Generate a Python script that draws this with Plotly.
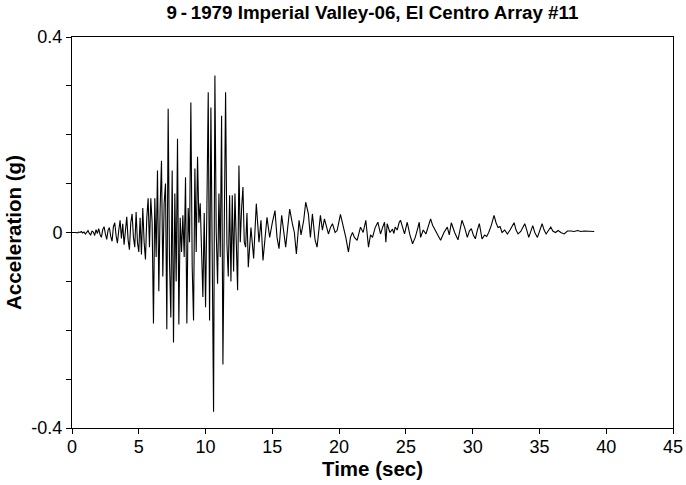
import plotly.graph_objects as go

t_strong = [round(i * 0.1, 1) for i in range(130)]
a_strong = [
    0, 0, 0.001, 0, -0.001, 0.001, 0, 0.002, -0.001, 0.001,
    -0.003, 0.002, 0.004, -0.002, -0.005, 0.003, 0.001, -0.006, 0.006, -0.002,
    0.008, -0.004, -0.01, 0.006, 0.012, -0.003, -0.014, 0.005, 0.01, -0.008,
    -0.018, 0.012, 0.02, -0.006, -0.022, 0.004, 0.025, -0.012, 0.018, -0.025,
    0.01, 0.032, -0.015, -0.035, 0.02, 0.038, -0.01, -0.03, 0.042, -0.02,
    -0.04, 0.03, -0.045, 0.05, -0.02, -0.055, 0.03, 0.07, -0.03, 0.07,
    0.02, -0.186, 0.07, -0.05, 0.127, -0.12, 0.05, 0.147, -0.09, 0.06,
    0.10, -0.198, 0.253, -0.06, -0.174, 0.127, -0.225, 0.08, -0.10, 0.192,
    -0.188, 0.03, -0.04, 0.035, -0.05, 0.113, -0.186, 0.05, -0.02, 0.266,
    -0.07, -0.18, 0.131, -0.04, 0.155, 0.02, 0.06, -0.05, -0.132, 0.04,
    -0.153, 0.05, 0.287, -0.18, 0.256, -0.05, -0.367, 0.321, 0.0, -0.105,
    0.08, -0.05, 0.239, -0.27, 0.05, 0.287, -0.023, -0.09, 0.076, -0.10,
    0.076, -0.08, 0.08, -0.02, -0.118, 0.137, -0.02, 0.05, 0.093, -0.02,
]

# Segment 2: 13 s to end (times and values)
t_coda = [
    13.0, 13.1, 13.2, 13.4, 13.6, 13.8, 14.0, 14.15, 14.3, 14.6, 14.8, 15.0, 15.2, 15.35,
    15.5, 15.7, 15.85, 16.0, 16.15, 16.3, 16.5, 16.65, 16.8, 17.0, 17.15, 17.35, 17.5,
    17.7, 17.85, 18.0, 18.2, 18.35, 18.6, 18.75, 18.9, 19.05, 19.2, 19.35, 19.5, 19.7,
    19.85, 20.1, 20.35, 20.5, 20.7, 20.85, 21.0, 21.15, 21.35, 21.6, 21.8, 22.0, 22.2,
    22.35, 22.5, 22.7, 22.9, 23.1, 23.25, 23.4, 23.5, 23.6, 23.8, 24.0, 24.1, 24.2,
    24.35, 24.5, 24.6, 24.75, 24.9, 25.1, 25.3, 25.5, 25.7, 25.85, 26.0, 26.1, 26.3,
    26.5, 26.7, 26.85, 27.0, 27.2, 27.4, 27.6, 27.85, 28.1, 28.25, 28.4, 28.65, 28.9,
    29.05, 29.2, 29.4, 29.6, 29.75, 29.9, 30.05, 30.2, 30.35, 30.5, 30.7, 30.9, 31.05,
    31.2, 31.4, 31.6, 31.75, 31.9, 32.05, 32.2, 32.4, 32.6, 32.8, 33.1, 33.25, 33.4,
    33.6, 33.9, 34.05, 34.2, 34.5, 34.65, 34.85, 35.05, 35.2, 35.35, 35.5, 35.7, 35.85,
    36.0, 36.2, 36.4, 36.6, 36.85, 37.1, 37.35, 37.6, 37.85, 38.1, 38.35, 38.7, 39.1,
]
a_coda = [
    -0.03, 0.04, -0.071, 0.01, -0.053, 0.059, -0.02, 0.025, -0.057, 0.031, -0.01, 0.02, 0.045, -0.01,
    -0.033, 0.035, -0.005, -0.03, 0.01, 0.048, 0.018, 0.0, -0.044, 0.025, -0.005, 0.025, 0.062,
    0.038, -0.01, 0.038, -0.015, -0.03, 0.035, 0.005, 0.028, 0.01, -0.003, 0.01, 0.018, 0.0,
    0.004, 0.037, 0.011, -0.01, -0.04, -0.01, 0.0, -0.01, -0.016, 0.011, 0.0, 0.025, -0.03,
    -0.005, -0.01, 0.01, 0.021, -0.003, 0.01, 0.021, -0.02, 0.018, 0.0, 0.007, -0.002, 0.011,
    0.005, 0.021, 0.025, 0.01, -0.003, 0.021, -0.005, -0.023, -0.01, 0.005, 0.021, -0.01, 0.005,
    -0.003, 0.015, 0.028, 0.015, 0.004, -0.005, -0.016, 0.0, 0.011, -0.005, 0.02, 0.0, -0.015,
    0.005, 0.025, 0.01, -0.01, 0.003, 0.008, -0.005, -0.013, 0.005, 0.018, -0.013, -0.005, -0.008,
    0.0, 0.015, 0.035, 0.02, 0.01, 0.012, 0.0, 0.005, -0.003, 0.005, 0.02, 0.005, -0.003,
    0.002, 0.018, 0.005, -0.01, 0.014, 0.0, -0.01, 0.005, 0.018, 0.005, -0.003, 0.005, 0.011,
    0.003, 0.0, 0.004, 0.0, -0.003, 0.003, 0.003, 0.002, 0.004, 0.002, 0.003, 0.002, 0.002,
]

time = t_strong + t_coda
accel = a_strong + a_coda

x_ticks = [0, 5, 10, 15, 20, 25, 30, 35, 40, 45]
y_ticks = [-0.4, -0.3, -0.2, -0.1, 0, 0.1, 0.2, 0.3, 0.4]
y_ticktext = ["-0.4", "", "", "", "0", "", "", "", "0.4"]

title_text = "9\u2009-\u20091979 Imperial Valley-06, El Centro Array #11"

fig = go.Figure()
fig.add_trace(go.Scatter(x=time, y=accel, mode="lines",
                         line=dict(color="black", width=1.1), hoverinfo="skip"))

font_family = "Liberation Sans, Arial, sans-serif"
tick_family = "Liberation Sans Narrow, Arial Narrow, Liberation Sans, sans-serif"

fig.update_layout(
    width=686, height=485,
    margin=dict(l=72, r=13, t=37, b=57, autoexpand=False),
    paper_bgcolor="white", plot_bgcolor="white",
    showlegend=False,
    font=dict(family=font_family, color="black"),
    title=dict(text="<b>" + title_text + "</b>", x=0.5429, xanchor="center",
               y=0.975, yanchor="middle", font=dict(size=18.8, color="black")),
)
fig.update_xaxes(
    range=[0, 45], tickvals=x_ticks, ticks="outside", ticklen=5, tickwidth=1,
    tickcolor="black", showline=True, linecolor="black", linewidth=1, mirror=True,
    showgrid=False, zeroline=False, automargin=False,
    tickfont=dict(size=18, family=tick_family), ticklabelstandoff=-3,
    title=dict(text="<b>Time (sec)</b>", font=dict(size=20.5), standoff=4),
)
fig.update_yaxes(
    range=[-0.4, 0.4], tickvals=y_ticks, ticktext=y_ticktext, ticks="outside",
    ticklen=5, tickwidth=1, tickcolor="black", showline=True, linecolor="black",
    linewidth=1, mirror=True, showgrid=False, zeroline=False, automargin=False,
    tickfont=dict(size=18, family=tick_family),
    title=dict(text="<b>Acceleration (g)</b>", font=dict(size=20.5), standoff=4),
)

fig.write_html("out.html")
